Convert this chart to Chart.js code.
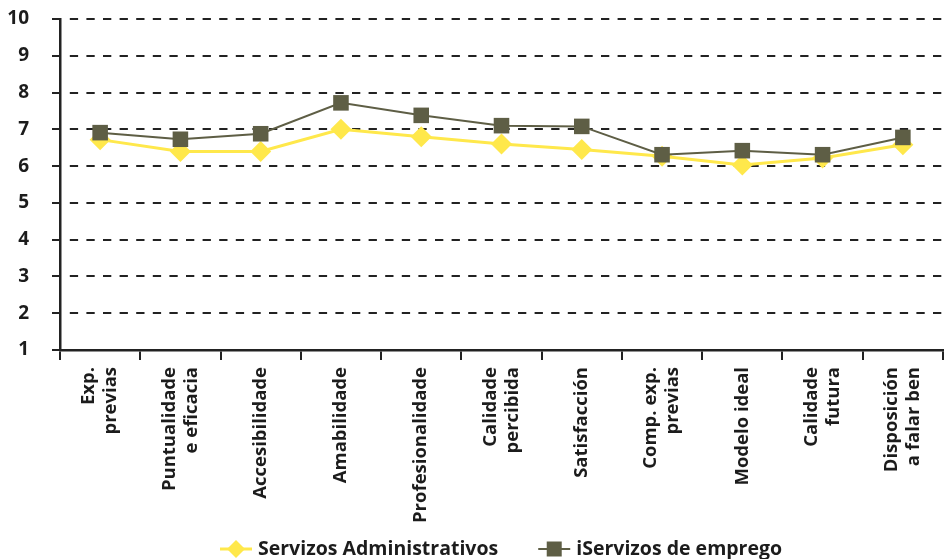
<!DOCTYPE html>
<html>
<head>
<meta charset="utf-8">
<script src="https://cdn.jsdelivr.net/npm/chart.js@4.4.1/dist/chart.umd.min.js"></script>
<style>
  html, body { margin: 0; padding: 0; background: #ffffff; }
  #wrap { width: 944px; height: 559px; }
  canvas { display: block; }
</style>
</head>
<body>
<div id="wrap"><canvas id="chart" width="944" height="559"></canvas></div>
<script>
// Quality dimensions (two-line labels are arrays)
const categories = [
  ['Exp.', 'previas'],
  ['Puntualidade', 'e eficacia'],
  'Accesibilidade',
  'Amabilidade',
  'Profesionalidade',
  ['Calidade', 'percibida'],
  'Satisfacción',
  ['Comp. exp.', 'previas'],
  'Modelo ideal',
  ['Calidade', 'futura'],
  ['Disposición', 'a falar ben']
];

const yTicks = [1, 2, 3, 4, 5, 6, 7, 8, 9, 10];

const seriesNames = ['Servizos Administrativos', 'iServizos de emprego'];

const administrativos = [6.72, 6.40, 6.40, 7.00, 6.80, 6.60, 6.45, 6.27, 6.03, 6.22, 6.58];
const emprego        = [6.91, 6.73, 6.88, 7.72, 7.38, 7.10, 7.08, 6.31, 6.42, 6.31, 6.78];

const FONT = '"Open Sans", "Noto Sans", "DejaVu Sans", sans-serif';
const INK = '#1c1c1c';
const YELLOW = '#FFE84B';
const OLIVE = '#5E5E45';

// Single-line labels get an empty leading line so every label sits centred on its category
const tickLabels = categories.map(c => Array.isArray(c) ? c : ['', c]);

// Series key drawn under the axis labels: line + marker, then name
const seriesKey = {
  id: 'seriesKey',
  afterDraw(chart) {
    const ctx = chart.ctx;
    const cy = 549;
    let x = 220;
    ctx.save();
    ctx.font = 'bold 19.5px ' + FONT;
    ctx.textBaseline = 'middle';
    ctx.textAlign = 'left';
    chart.data.datasets.forEach((ds) => {
      const iconW = 32;
      const mid = x + iconW / 2;
      ctx.strokeStyle = ds.borderColor;
      ctx.lineWidth = ds.borderWidth;
      ctx.beginPath();
      ctx.moveTo(x, cy);
      ctx.lineTo(x + iconW, cy);
      ctx.stroke();
      ctx.fillStyle = ds.pointBackgroundColor;
      ctx.beginPath();
      if (ds.pointStyle === 'rectRot') {
        const r = 9;
        ctx.moveTo(mid - r, cy);
        ctx.lineTo(mid, cy - r);
        ctx.lineTo(mid + r, cy);
        ctx.lineTo(mid, cy + r);
        ctx.closePath();
      } else {
        const h = 7.5;
        ctx.rect(mid - h, cy - h, 2 * h, 2 * h);
      }
      ctx.fill();
      ctx.fillStyle = INK;
      const tx = x + iconW + 6;
      ctx.fillText(ds.label, tx, cy);
      x = tx + ctx.measureText(ds.label).width + 40;
    });
    ctx.restore();
  }
};

new Chart(document.getElementById('chart'), {
  type: 'line',
  data: {
    labels: tickLabels,
    datasets: [
      {
        label: seriesNames[0],
        data: administrativos,
        borderColor: YELLOW,
        backgroundColor: YELLOW,
        pointBackgroundColor: YELLOW,
        borderWidth: 3,
        pointStyle: 'rectRot',
        pointRadius: 10.5,
        pointBorderWidth: 0,
        tension: 0,
        clip: false,
        order: 2
      },
      {
        label: seriesNames[1],
        data: emprego,
        borderColor: OLIVE,
        backgroundColor: OLIVE,
        pointBackgroundColor: OLIVE,
        borderWidth: 2,
        pointStyle: 'rect',
        pointRadius: 11,
        pointBorderWidth: 0,
        tension: 0,
        clip: false,
        order: 1
      }
    ]
  },
  options: {
    responsive: false,
    animation: false,
    devicePixelRatio: 1,
    layout: { autoPadding: false, padding: { top: 19, right: 1, left: 0, bottom: 0 } },
    plugins: {
      legend: { display: false },
      tooltip: { enabled: false }
    },
    scales: {
      x: {
        type: 'category',
        offset: true,
        grid: {
          offset: true,
          drawOnChartArea: false,
          drawTicks: true,
          tickLength: 10,
          tickColor: '#222',
          tickWidth: 2,
          lineWidth: 2
        },
        border: { display: true, color: '#222', width: 2.5 },
        ticks: {
          autoSkip: false,
          minRotation: 90,
          maxRotation: 90,
          padding: 7,
          labelOffset: -11,
          color: INK,
          font: (c) => ({
            family: FONT,
            size: 18.5,
            weight: 'bold',
            lineHeight: Array.isArray(categories[c.index]) ? '22px' : '11px'
          })
        },
        afterFit: (s) => {
          s.height = 209;
          s.paddingLeft = 0;
          s.paddingRight = 0;
        }
      },
      y: {
        min: 1,
        max: 10,
        afterBuildTicks: (s) => { s.ticks = yTicks.map(v => ({ value: v })); },
        grid: {
          color: '#222',
          lineWidth: 2,
          drawTicks: true,
          tickLength: 8,
          tickColor: '#222',
          tickWidth: 2
        },
        border: { display: true, color: '#222', width: 2.5, dash: [8.3, 8.3], dashOffset: 8.3 },
        ticks: {
          padding: 23,
          color: INK,
          font: { family: FONT, size: 19, weight: 'bold' }
        },
        afterFit: (s) => {
          s.width = 60;
          s.paddingTop = 12;
          s.paddingBottom = 0;
        }
      }
    }
  },
  plugins: [seriesKey]
});
</script>
</body>
</html>
